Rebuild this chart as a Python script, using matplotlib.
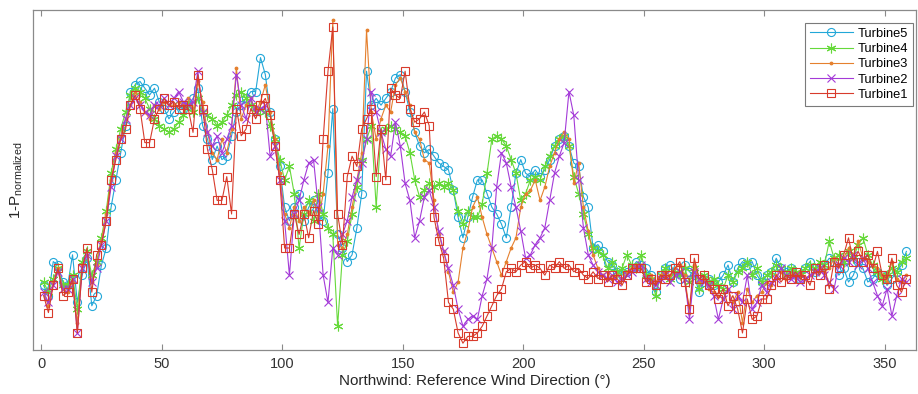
import matplotlib
matplotlib.use("Agg")
import matplotlib.pyplot as plt

plt.rcParams["font.family"] = ["Liberation Sans", "DejaVu Sans"]
plt.rcParams["mathtext.default"] = "regular"

# wind direction bins (deg)
direction = list(range(1, 360, 2))

turbine1 = [
    0.16, 0.11, 0.19, 0.24, 0.16, 0.17, 0.21, 0.05, 0.24, 0.30,
    0.17, 0.28, 0.31, 0.38, 0.50, 0.56, 0.62, 0.65, 0.72, 0.75,
    0.71, 0.61, 0.61, 0.68, 0.71, 0.74, 0.72, 0.73, 0.71, 0.72,
    0.71, 0.64, 0.81, 0.71, 0.59, 0.53, 0.44, 0.44, 0.51, 0.40,
    0.71, 0.63, 0.65, 0.71, 0.68, 0.72, 0.74, 0.69, 0.60, 0.50,
    0.30, 0.30, 0.40, 0.34, 0.40, 0.33, 0.41, 0.37, 0.62, 0.82,
    0.95, 0.40, 0.31, 0.51, 0.57, 0.54, 0.65, 0.68, 0.71, 0.51,
    0.65, 0.50, 0.77, 0.75, 0.74, 0.82, 0.71, 0.67, 0.68, 0.70,
    0.66, 0.39, 0.32, 0.27, 0.14, 0.12, 0.05, 0.02, 0.04, 0.04,
    0.05, 0.07, 0.10, 0.13, 0.16, 0.18, 0.23, 0.24, 0.23, 0.25,
    0.26, 0.24, 0.25, 0.24, 0.22, 0.25, 0.24, 0.26, 0.24, 0.25,
    0.23, 0.24, 0.22, 0.21, 0.23, 0.21, 0.22, 0.20, 0.22, 0.21,
    0.19, 0.22, 0.24, 0.24, 0.24, 0.20, 0.21, 0.19, 0.22, 0.21,
    0.22, 0.24, 0.26, 0.20, 0.12, 0.27, 0.21, 0.22, 0.19, 0.18,
    0.15, 0.18, 0.13, 0.16, 0.12, 0.05, 0.15, 0.09, 0.10, 0.15,
    0.15, 0.19, 0.22, 0.20, 0.22, 0.21, 0.23, 0.21, 0.22, 0.19,
    0.24, 0.22, 0.25, 0.18, 0.26, 0.24, 0.28, 0.33, 0.26, 0.29,
    0.26, 0.28, 0.24, 0.29, 0.22, 0.21, 0.27, 0.19, 0.17, 0.21,
]

turbine2 = [
    0.17, 0.14, 0.19, 0.23, 0.18, 0.18, 0.21, 0.05, 0.24, 0.28,
    0.20, 0.24, 0.31, 0.38, 0.48, 0.57, 0.62, 0.68, 0.72, 0.74,
    0.72, 0.70, 0.69, 0.72, 0.72, 0.74, 0.72, 0.74, 0.76, 0.73,
    0.72, 0.73, 0.82, 0.70, 0.64, 0.60, 0.63, 0.58, 0.62, 0.66,
    0.81, 0.72, 0.68, 0.74, 0.70, 0.71, 0.72, 0.57, 0.60, 0.50,
    0.38, 0.22, 0.40, 0.44, 0.50, 0.55, 0.56, 0.42, 0.22, 0.14,
    0.30, 0.28, 0.34, 0.38, 0.45, 0.50, 0.55, 0.62, 0.76, 0.70,
    0.64, 0.59, 0.57, 0.67, 0.60, 0.49, 0.44, 0.33, 0.38, 0.45,
    0.47, 0.42, 0.35, 0.29, 0.24, 0.19, 0.12, 0.07, 0.09, 0.10,
    0.09, 0.16, 0.21, 0.30, 0.48, 0.58, 0.55, 0.48, 0.42, 0.35,
    0.27, 0.28, 0.31, 0.33, 0.36, 0.44, 0.52, 0.57, 0.61, 0.76,
    0.69, 0.50, 0.36, 0.28, 0.25, 0.23, 0.22, 0.21, 0.22, 0.20,
    0.21, 0.22, 0.23, 0.24, 0.25, 0.21, 0.20, 0.19, 0.21, 0.22,
    0.20, 0.22, 0.23, 0.21, 0.09, 0.23, 0.21, 0.20, 0.19, 0.16,
    0.09, 0.15, 0.18, 0.12, 0.16, 0.14, 0.22, 0.12, 0.14, 0.19,
    0.17, 0.20, 0.21, 0.24, 0.22, 0.21, 0.22, 0.20, 0.21, 0.22,
    0.23, 0.24, 0.22, 0.20, 0.18, 0.25, 0.27, 0.26, 0.28, 0.25,
    0.27, 0.24, 0.20, 0.16, 0.13, 0.18, 0.10, 0.16, 0.21, 0.20,
]

turbine3 = [
    0.17, 0.13, 0.20, 0.24, 0.18, 0.17, 0.20, 0.08, 0.25, 0.28,
    0.20, 0.25, 0.32, 0.40, 0.50, 0.58, 0.63, 0.68, 0.72, 0.76,
    0.73, 0.70, 0.68, 0.72, 0.71, 0.73, 0.72, 0.72, 0.73, 0.72,
    0.74, 0.70, 0.79, 0.73, 0.64, 0.58, 0.56, 0.62, 0.58, 0.65,
    0.83, 0.68, 0.72, 0.74, 0.70, 0.73, 0.78, 0.70, 0.62, 0.52,
    0.40, 0.36, 0.42, 0.38, 0.42, 0.40, 0.44, 0.38, 0.46, 0.60,
    0.97, 0.31, 0.30, 0.34, 0.42, 0.50, 0.58, 0.94, 0.70, 0.62,
    0.68, 0.72, 0.70, 0.78, 0.80, 0.76, 0.72, 0.64, 0.62, 0.56,
    0.55, 0.44, 0.34, 0.29, 0.23, 0.17, 0.20, 0.30, 0.35, 0.42,
    0.45, 0.39, 0.34, 0.30, 0.26, 0.22, 0.26, 0.30, 0.33, 0.42,
    0.46, 0.47, 0.50, 0.44, 0.48, 0.54, 0.58, 0.62, 0.64, 0.62,
    0.49, 0.55, 0.42, 0.35, 0.28, 0.24, 0.22, 0.23, 0.21, 0.22,
    0.21, 0.23, 0.24, 0.25, 0.25, 0.21, 0.22, 0.20, 0.22, 0.23,
    0.22, 0.24, 0.25, 0.22, 0.11, 0.25, 0.20, 0.21, 0.18, 0.17,
    0.16, 0.15, 0.18, 0.14, 0.17, 0.08, 0.18, 0.14, 0.16, 0.17,
    0.20, 0.19, 0.22, 0.23, 0.21, 0.22, 0.22, 0.23, 0.21, 0.22,
    0.23, 0.24, 0.23, 0.24, 0.27, 0.25, 0.27, 0.30, 0.28, 0.32,
    0.27, 0.26, 0.25, 0.24, 0.22, 0.20, 0.26, 0.21, 0.20, 0.22,
]

turbine4 = [
    0.20, 0.17, 0.21, 0.24, 0.19, 0.19, 0.22, 0.12, 0.26, 0.29,
    0.22, 0.26, 0.33, 0.41, 0.52, 0.59, 0.65, 0.70, 0.75, 0.77,
    0.76, 0.74, 0.71, 0.68, 0.66, 0.65, 0.64, 0.65, 0.67, 0.69,
    0.72, 0.70, 0.74, 0.70, 0.69, 0.68, 0.66, 0.67, 0.69, 0.72,
    0.75, 0.76, 0.74, 0.72, 0.70, 0.71, 0.70, 0.66, 0.62, 0.56,
    0.50, 0.54, 0.46, 0.30, 0.40, 0.44, 0.38, 0.46, 0.40, 0.36,
    0.34, 0.07, 0.28, 0.32, 0.40, 0.48, 0.56, 0.62, 0.66, 0.42,
    0.64, 0.65, 0.66, 0.65, 0.64, 0.63, 0.58, 0.50, 0.45, 0.47,
    0.49, 0.48, 0.49, 0.48, 0.49, 0.47, 0.41, 0.37, 0.41, 0.39,
    0.39, 0.43, 0.52, 0.62, 0.63, 0.62, 0.60, 0.56, 0.52, 0.44,
    0.46, 0.50, 0.51, 0.50, 0.54, 0.57, 0.60, 0.62, 0.63, 0.60,
    0.51, 0.46, 0.40, 0.34, 0.30, 0.29, 0.28, 0.24, 0.26, 0.23,
    0.24, 0.28, 0.25, 0.24, 0.28, 0.22, 0.21, 0.16, 0.22, 0.24,
    0.21, 0.23, 0.22, 0.24, 0.20, 0.24, 0.18, 0.22, 0.20, 0.21,
    0.19, 0.18, 0.22, 0.20, 0.23, 0.24, 0.26, 0.22, 0.24, 0.20,
    0.22, 0.23, 0.25, 0.24, 0.22, 0.24, 0.23, 0.22, 0.24, 0.25,
    0.24, 0.26, 0.25, 0.32, 0.27, 0.28, 0.26, 0.29, 0.27, 0.31,
    0.33, 0.28, 0.25, 0.23, 0.21, 0.22, 0.24, 0.23, 0.26, 0.27,
]

turbine5 = [
    0.19, 0.16, 0.26, 0.25, 0.20, 0.19, 0.28, 0.14, 0.22, 0.27,
    0.13, 0.16, 0.25, 0.30, 0.42, 0.50, 0.58, 0.66, 0.76, 0.78,
    0.79, 0.77, 0.75, 0.77, 0.73, 0.71, 0.68, 0.70, 0.72, 0.71,
    0.72, 0.74, 0.77, 0.66, 0.62, 0.56, 0.60, 0.56, 0.57, 0.63,
    0.70, 0.72, 0.74, 0.76, 0.76, 0.86, 0.81, 0.70, 0.62, 0.54,
    0.42, 0.38, 0.42, 0.46, 0.38, 0.42, 0.44, 0.40, 0.38, 0.52,
    0.71, 0.34, 0.30, 0.26, 0.28, 0.36, 0.46, 0.82, 0.72, 0.74,
    0.72, 0.74, 0.76, 0.80, 0.81, 0.76, 0.70, 0.64, 0.60, 0.58,
    0.59, 0.57, 0.55, 0.54, 0.53, 0.47, 0.39, 0.33, 0.39, 0.45,
    0.50, 0.50, 0.46, 0.42, 0.40, 0.37, 0.33, 0.42, 0.52, 0.56,
    0.52, 0.51, 0.53, 0.51, 0.53, 0.56, 0.60, 0.62, 0.63, 0.60,
    0.55, 0.54, 0.45, 0.42, 0.30, 0.31, 0.29, 0.26, 0.25, 0.23,
    0.22, 0.23, 0.24, 0.26, 0.25, 0.24, 0.22, 0.17, 0.22, 0.24,
    0.25, 0.23, 0.21, 0.25, 0.23, 0.22, 0.17, 0.20, 0.21, 0.19,
    0.20, 0.22, 0.25, 0.20, 0.24, 0.26, 0.25, 0.26, 0.22, 0.20,
    0.22, 0.23, 0.27, 0.24, 0.23, 0.24, 0.22, 0.21, 0.24, 0.26,
    0.23, 0.24, 0.25, 0.27, 0.26, 0.22, 0.24, 0.20, 0.22, 0.26,
    0.24, 0.20, 0.21, 0.23, 0.22, 0.19, 0.21, 0.23, 0.25, 0.29,
]

fig = plt.figure(figsize=(9.18, 3.94), dpi=100)
ax = fig.add_axes([33 / 918, 1 - 350 / 394, 883 / 918, 340 / 394])

# asterisk marker like MATLAB's '*'
star = (6, 2, 0)

# plotted 5 -> 1 so Turbine1 ends up on top, same as the legend order
ax.plot(direction, turbine5, color="#22a7d8", marker="o", mfc="none", ms=5.8, mew=0.8, lw=0.8, label="Turbine5")
ax.plot(direction, turbine4, color="#66d93a", marker=star, ms=7, mew=0.8, lw=0.8, label="Turbine4")
ax.plot(direction, turbine3, color="#e5802e", marker=".", ms=3.5, lw=0.8, label="Turbine3")
ax.plot(direction, turbine2, color="#a43ad8", marker="x", ms=5.5, mew=0.8, lw=0.8, label="Turbine2")
ax.plot(direction, turbine1, color="#d83b2c", marker="s", mfc="none", ms=5.5, mew=0.8, lw=0.8, label="Turbine1")

ax.set_xlim(-3.4, 363)
ax.set_ylim(0, 1)
ax.set_xticks(range(0, 351, 50))
ax.set_yticks([])
ax.tick_params(axis="x", direction="in", top=True, length=4, colors="#8a8a8a",
               labelcolor="#333333", labelsize=10.5, pad=5)
for s in ax.spines.values():
    s.set_color("#8a8a8a")
    s.set_linewidth(0.9)

ax.set_xlabel("Northwind: Reference Wind Direction (°)", fontsize=11, color="#262626", labelpad=2)
ax.set_ylabel("1-P$_{normalized}$", fontsize=11, color="#262626", labelpad=6)

leg = ax.legend(loc="upper right", bbox_to_anchor=(0.997, 0.963), borderaxespad=0,
                fontsize=9.3, handlelength=3.3, fancybox=False, framealpha=1,
                edgecolor="#7a7a7a", borderpad=0.4, labelspacing=0.25, handletextpad=0.4)
leg.get_frame().set_linewidth(0.8)

fig.savefig("out.png", dpi=100)
